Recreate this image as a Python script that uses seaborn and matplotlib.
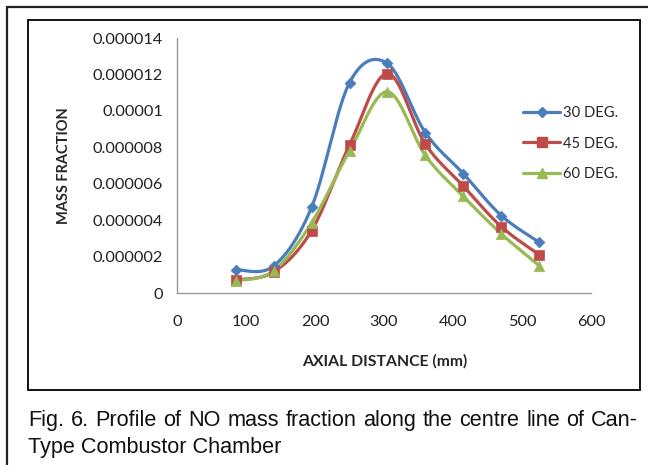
import numpy as np
import matplotlib
matplotlib.use("Agg")
import matplotlib.pyplot as plt
import seaborn as sns
from matplotlib.lines import Line2D
from matplotlib.patches import Rectangle

# Values
axial_mm = [85, 140, 195, 250, 305, 360, 415, 470, 525]
deg30 = [1.28e-6, 1.48e-6, 4.70e-6, 11.55e-6, 12.6e-6, 8.8e-6, 6.55e-6, 4.25e-6, 2.78e-6]
deg45 = [0.72e-6, 1.15e-6, 3.42e-6, 8.12e-6, 12.05e-6, 8.17e-6, 5.87e-6, 3.64e-6, 2.10e-6]
deg60 = [0.66e-6, 1.22e-6, 3.85e-6, 7.80e-6, 11.05e-6, 7.55e-6, 5.30e-6, 3.25e-6, 1.50e-6]
series_labels = ["30 DEG.", "45 DEG.", "60 DEG."]
y_ticks = [0, 2e-6, 4e-6, 6e-6, 8e-6, 1e-5, 1.2e-5, 1.4e-5]
y_tick_labels = ["0", "0.000002", "0.000004", "0.000006", "0.000008",
                 "0.00001", "0.000012", "0.000014"]
x_ticks = [0, 100, 200, 300, 400, 500, 600]
caption = ["Fig. 6. Profile of NO mass fraction along the centre line of Can-",
           "Type Combustor Chamber"]

colors = ["#4A7EBB", "#BE4B48", "#98B954"]
markers = ["D", "s", "^"]
msizes = [5.5, 7.5, 7.5]


def smooth(x, y, n=30):
    # Excel-style smoothed line: cubic Bezier segments through the points
    x = np.asarray(x, float)
    y = np.asarray(y, float)
    px = np.concatenate([[x[0]], x, [x[-1]]])
    py = np.concatenate([[y[0]], y, [y[-1]]])
    t = np.linspace(0, 1, n)
    xs, ys = [], []
    for i in range(1, len(px) - 2):
        p0 = np.array([px[i], py[i]])
        p3 = np.array([px[i + 1], py[i + 1]])
        c1 = p0 + (np.array([px[i + 1], py[i + 1]]) - np.array([px[i - 1], py[i - 1]])) / 6
        c2 = p3 - (np.array([px[i + 2], py[i + 2]]) - np.array([px[i], py[i]])) / 6
        pts = ((1 - t) ** 3)[:, None] * p0 + (3 * (1 - t) ** 2 * t)[:, None] * c1 \
            + (3 * (1 - t) * t ** 2)[:, None] * c2 + (t ** 3)[:, None] * p3
        xs.append(pts[:, 0])
        ys.append(pts[:, 1])
    return np.concatenate(xs), np.concatenate(ys)


sns.set_style("white")
plt.rcParams["font.family"] = ["Lato", "DejaVu Sans"]

fig = plt.figure(figsize=(6.48, 4.65), dpi=100)
W, H = 648, 465
ax = fig.add_axes([177 / W, 1 - 293 / H, 414 / W, 255 / H])

handles = []
for ys, lab, c, m, ms in zip([deg30, deg45, deg60], series_labels, colors, markers, msizes):
    sx, sy = smooth(axial_mm, ys)
    sns.lineplot(x=sx, y=sy, ax=ax, color=c, lw=2.3, sort=False, estimator=None)
    sns.scatterplot(x=axial_mm, y=ys, ax=ax, color=c, marker=m, s=ms ** 2,
                    edgecolor=c, linewidth=0.5, zorder=5)
    handles.append(Line2D([], [], color=c, lw=2.3, marker=m, markersize=ms, label=lab))

ax.set_xlim(0, 600)
ax.set_ylim(0, 1.4e-5)
ax.set_xticks(x_ticks)
ax.set_xticklabels([str(v) for v in x_ticks])
ax.set_yticks(y_ticks)
ax.set_yticklabels(y_tick_labels)
ax.tick_params(axis="both", length=0, labelsize=11.8, colors="#222222")
ax.tick_params(axis="x", pad=16)
ax.tick_params(axis="y", pad=10)
for s in ["top", "right"]:
    ax.spines[s].set_visible(False)
for s in ["left", "bottom"]:
    ax.spines[s].set_color("#999999")
    ax.spines[s].set_linewidth(1.0)

ax.set_ylabel("MASS FRACTION", fontsize=10.5, fontweight="bold")
ax.yaxis.set_label_coords(-0.256, 0.5)
ax.set_xlabel("AXIAL DISTANCE (mm)", fontsize=11.3, fontweight="bold")
ax.xaxis.set_label_coords(0.502, -0.24)

fig.legend(handles=handles, loc="upper left", bbox_to_anchor=(516 / W, 1 - 99 / H),
           frameon=False, fontsize=10.6, handlelength=2.5, handletextpad=0.2,
           labelspacing=1.1, borderpad=0)

# chart frame and page frame
fig.patches.append(Rectangle((28 / W, 1 - 390 / H), 612 / W, 370 / H,
                             transform=fig.transFigure, fill=False,
                             edgecolor="black", lw=1.3))
fig.patches.append(Rectangle((7 / W, -0.1), 1.2, 1 - 7 / H + 0.1,
                             transform=fig.transFigure, fill=False,
                             edgecolor="#222222", lw=1.6))

# caption: first line justified between the chart frame edges
cap_kw = dict(fontsize=15.6, family="Liberation Sans", va="top", color="#111111")
renderer = fig.canvas.get_renderer()
words = caption[0].split(" ")
word_texts = [fig.text(0, 1 - 410 / H, w, **cap_kw) for w in words]
widths = [t.get_window_extent(renderer).width for t in word_texts]
gap = (638 - 28 - sum(widths)) / (len(words) - 1)
xpos = 28
for t, wd in zip(word_texts, widths):
    t.set_x(xpos / W)
    xpos += wd + gap
fig.text(28 / W, 1 - 437 / H, caption[1], **cap_kw)

fig.savefig("out.png", dpi=100)
